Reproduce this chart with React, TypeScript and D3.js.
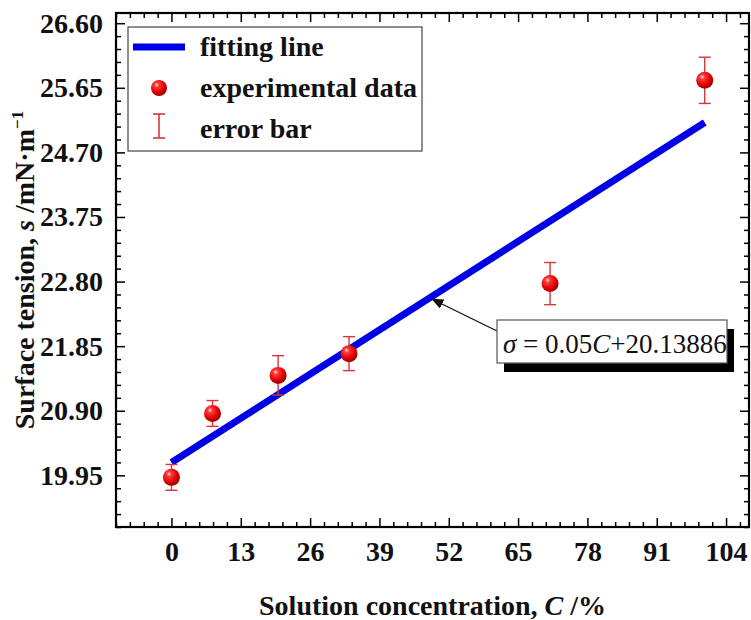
import * as d3 from 'd3';
import React, { useEffect, useRef } from 'react';

// experimental points
const concentration = [0, 7.7, 20, 33.3, 71, 100];
const tension = [19.92, 20.86, 21.42, 21.74, 22.77, 25.76];
const tensionError = [0.19, 0.19, 0.29, 0.25, 0.31, 0.34];

// fitted line sigma = 0.05C + 20.13886
const fitSlope = 0.05;
const fitIntercept = 20.13886;
const fitRange = [0, 100];

const xTickValues = [0, 13, 26, 39, 52, 65, 78, 91, 104];
const yTickValues = [19.95, 20.9, 21.85, 22.8, 23.75, 24.7, 25.65, 26.6];
const legendLabels = ['fitting line', 'experimental data', 'error bar'];

const App = () => {
    const d3Container = useRef<SVGSVGElement>(null);
    const width = 751;
    const height = 620;
    const margin = { top: 13, right: 2, bottom: 93, left: 116 };
    const font = "'Liberation Serif', 'Times New Roman', serif";
    const lineColor = '#0000e6';
    const errColor = '#d8343c';

    useEffect(() => {
        const svg = d3.select(d3Container.current);
        svg.selectAll('*').remove();

        const x = d3.scaleLinear()
            .domain([-10.4, 108.3])
            .range([margin.left, width - margin.right]);
        const y = d3.scaleLinear()
            .domain([19.19, 26.75])
            .range([height - margin.bottom, margin.top]);

        const xMinor = d3.range(-10.4, 108.3, 2.6).filter(v => xTickValues.every(t => Math.abs(t - v) > 0.01));
        const yMinor = d3.range(19.19, 26.76, 0.19).filter(v => yTickValues.every(t => Math.abs(t - v) > 0.01));

        // sphere gradient for markers
        const defs = svg.append('defs');
        const grad = defs.append('radialGradient')
            .attr('id', 'ball')
            .attr('cx', '38%').attr('cy', '34%').attr('r', '65%')
            .attr('fx', '35%').attr('fy', '30%');
        grad.append('stop').attr('offset', '0%').attr('stop-color', '#ffe6e6');
        grad.append('stop').attr('offset', '22%').attr('stop-color', '#ff3a3a');
        grad.append('stop').attr('offset', '70%').attr('stop-color', '#e00000');
        grad.append('stop').attr('offset', '100%').attr('stop-color', '#9a0000');

        defs.append('marker')
            .attr('id', 'arrow')
            .attr('viewBox', '0 0 12 10')
            .attr('refX', 11).attr('refY', 5)
            .attr('markerWidth', 12).attr('markerHeight', 10)
            .attr('markerUnits', 'userSpaceOnUse')
            .attr('orient', 'auto')
            .append('path')
            .attr('d', 'M0,0 L12,5 L0,10 Z')
            .attr('fill', '#111');

        const x0 = margin.left, x1 = width - margin.right;
        const y0 = height - margin.bottom, y1 = margin.top;

        // axes with inward ticks on all four sides
        const styleAxis = (g: any) => {
            g.select('.domain').remove();
            g.selectAll('line').attr('stroke', '#000').attr('stroke-width', 1.5);
            g.selectAll('text')
                .attr('fill', '#111')
                .style('font-family', font)
                .style('font-size', '28px')
                .style('font-weight', 'bold');
        };

        svg.append('g')
            .attr('transform', 'translate(0,' + y0 + ')')
            .call(d3.axisBottom(x).tickValues(xTickValues).tickSize(-9).tickPadding(14).tickFormat(d3.format('d')))
            .call(styleAxis);
        svg.append('g')
            .attr('transform', 'translate(0,' + y0 + ')')
            .call(d3.axisBottom(x).tickValues(xMinor).tickSize(-5).tickFormat(() => ''))
            .call(styleAxis);
        svg.append('g')
            .attr('transform', 'translate(0,' + y1 + ')')
            .call(d3.axisTop(x).tickValues(xTickValues).tickSize(-9).tickFormat(() => ''))
            .call(styleAxis);
        svg.append('g')
            .attr('transform', 'translate(0,' + y1 + ')')
            .call(d3.axisTop(x).tickValues(xMinor).tickSize(-5).tickFormat(() => ''))
            .call(styleAxis);

        svg.append('g')
            .attr('transform', 'translate(' + x0 + ',0)')
            .call(d3.axisLeft(y).tickValues(yTickValues).tickSize(-9).tickPadding(13).tickFormat(d3.format('.2f')))
            .call(styleAxis);
        svg.append('g')
            .attr('transform', 'translate(' + x0 + ',0)')
            .call(d3.axisLeft(y).tickValues(yMinor).tickSize(-5).tickFormat(() => ''))
            .call(styleAxis);
        svg.append('g')
            .attr('transform', 'translate(' + x1 + ',0)')
            .call(d3.axisRight(y).tickValues(yTickValues).tickSize(-9).tickFormat(() => ''))
            .call(styleAxis);
        svg.append('g')
            .attr('transform', 'translate(' + x1 + ',0)')
            .call(d3.axisRight(y).tickValues(yMinor).tickSize(-5).tickFormat(() => ''))
            .call(styleAxis);

        // frame
        svg.append('rect')
            .attr('x', x0).attr('y', y1)
            .attr('width', x1 - x0).attr('height', y0 - y1)
            .attr('fill', 'none')
            .attr('stroke', '#000')
            .attr('stroke-width', 2.2);

        // fitting line
        const line = d3.line<number>()
            .x(d => x(d))
            .y(d => y(fitSlope * d + fitIntercept));
        svg.append('path')
            .datum(fitRange)
            .attr('d', line)
            .attr('fill', 'none')
            .attr('stroke', lineColor)
            .attr('stroke-width', 7);

        // error bars
        const pts = concentration.map((c, i) => ({ c, s: tension[i], e: tensionError[i] }));
        const eb = svg.append('g').attr('stroke', errColor).attr('stroke-width', 1.4).attr('fill', 'none');
        pts.forEach(p => {
            eb.append('line').attr('x1', x(p.c)).attr('x2', x(p.c)).attr('y1', y(p.s - p.e)).attr('y2', y(p.s + p.e));
            eb.append('line').attr('x1', x(p.c) - 6).attr('x2', x(p.c) + 6).attr('y1', y(p.s - p.e)).attr('y2', y(p.s - p.e));
            eb.append('line').attr('x1', x(p.c) - 6).attr('x2', x(p.c) + 6).attr('y1', y(p.s + p.e)).attr('y2', y(p.s + p.e));
        });

        // points
        svg.append('g')
            .selectAll('circle')
            .data(pts)
            .enter()
            .append('circle')
            .attr('cx', d => x(d.c))
            .attr('cy', d => y(d.s))
            .attr('r', 8.5)
            .attr('fill', 'url(#ball)');

        // legend
        const lg = svg.append('g');
        lg.append('rect')
            .attr('x', 128).attr('y', 27).attr('width', 294).attr('height', 124)
            .attr('fill', '#fff').attr('stroke', '#444').attr('stroke-width', 1.2);
        lg.append('line')
            .attr('x1', 133).attr('x2', 185).attr('y1', 47).attr('y2', 47)
            .attr('stroke', lineColor).attr('stroke-width', 7);
        lg.append('circle').attr('cx', 159).attr('cy', 88).attr('r', 8).attr('fill', 'url(#ball)');
        const le = lg.append('g').attr('stroke', errColor).attr('stroke-width', 1.6);
        le.append('line').attr('x1', 159).attr('x2', 159).attr('y1', 114).attr('y2', 138);
        le.append('line').attr('x1', 153).attr('x2', 165).attr('y1', 114).attr('y2', 114);
        le.append('line').attr('x1', 153).attr('x2', 165).attr('y1', 138).attr('y2', 138);
        lg.selectAll('text.lab')
            .data(legendLabels)
            .enter()
            .append('text')
            .attr('class', 'lab')
            .attr('x', 200)
            .attr('y', (d, i) => 56 + i * 41)
            .attr('fill', '#111')
            .style('font-family', font)
            .style('font-size', '28px')
            .style('font-weight', 'bold')
            .text(d => d);

        // annotation box with equation and arrow
        const cArrow = 48.9;
        svg.append('line')
            .attr('x1', 497).attr('y1', 331)
            .attr('x2', x(cArrow)).attr('y2', y(fitSlope * cArrow + fitIntercept) + 3)
            .attr('stroke', '#111').attr('stroke-width', 1.3)
            .attr('marker-end', 'url(#arrow)');
        svg.append('rect')
            .attr('x', 504).attr('y', 329).attr('width', 230).attr('height', 43)
            .attr('fill', '#000');
        svg.append('rect')
            .attr('x', 497).attr('y', 320).attr('width', 230).attr('height', 43)
            .attr('fill', '#fff').attr('stroke', '#555').attr('stroke-width', 1.2);
        const eq = svg.append('text')
            .attr('x', 503).attr('y', 353)
            .attr('fill', '#111')
            .style('font-family', font)
            .style('font-size', '27px');
        eq.append('tspan').style('font-style', 'italic').text('σ');
        eq.append('tspan').text(' = 0.05');
        eq.append('tspan').style('font-style', 'italic').text('C');
        eq.append('tspan').text('+' + fitIntercept.toFixed(5));

        // axis titles
        const xt = svg.append('text')
            .attr('x', (x0 + x1) / 2)
            .attr('y', 615)
            .attr('text-anchor', 'middle')
            .attr('fill', '#111')
            .style('font-family', font)
            .style('font-size', '28px')
            .style('font-weight', 'bold');
        xt.append('tspan').text('Solution concentration, ');
        xt.append('tspan').style('font-style', 'italic').text('C');
        xt.append('tspan').text(' /%');

        const yt = svg.append('text')
            .attr('transform', 'translate(34,' + ((y0 + y1) / 2) + ') rotate(-90)')
            .attr('text-anchor', 'middle')
            .attr('fill', '#111')
            .style('font-family', font)
            .style('font-size', '28px')
            .style('font-weight', 'bold');
        yt.append('tspan').text('Surface tension, ');
        yt.append('tspan').style('font-style', 'italic').text('s');
        yt.append('tspan').text(' /mN·m');
        yt.append('tspan').attr('dy', -11).style('font-size', '17px').text('−1');
    }, []);

    return (
        <svg
            ref={d3Container}
            width={width}
            height={height}
            style={{ position: 'absolute', left: 0, top: 0, background: '#fff' }}
        />
    );
};

export default App;
